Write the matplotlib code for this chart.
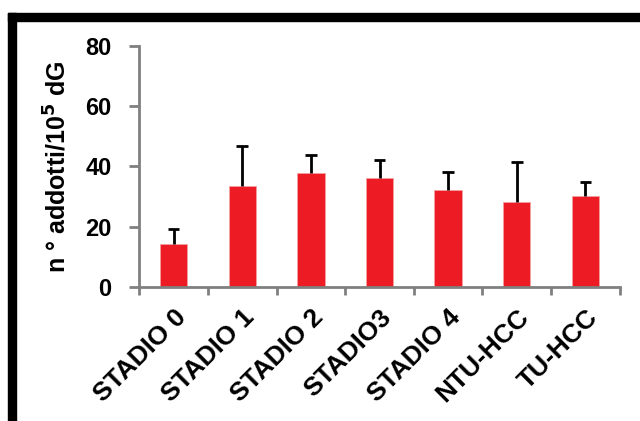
import matplotlib
matplotlib.use('Agg')
import matplotlib.pyplot as plt
from matplotlib.patches import Rectangle

categories = ['STADIO 0', 'STADIO 1', 'STADIO 2', 'STADIO3', 'STADIO 4', 'NTU-HCC', 'TU-HCC']
values = [14.3, 33.6, 37.8, 36.0, 32.2, 28.3, 30.2]
upper_err = [4.9, 13.3, 6.1, 6.0, 5.9, 13.0, 4.5]
yticks = [0, 20, 40, 60, 80]

plt.rcParams['font.family'] = ['Liberation Sans', 'DejaVu Sans']
plt.rcParams['font.weight'] = 'bold'
plt.rcParams['mathtext.default'] = 'bf'

W, H = 640, 421
fig = plt.figure(figsize=(6.4, 4.21), dpi=100)
ax = fig.add_axes([139.3 / W, 1 - 286.7 / H, (619.7 - 139.3) / W, (286.7 - 46) / H])

x = list(range(len(categories)))
tops = [v + e for v, e in zip(values, upper_err)]
ax.bar(x, values, width=0.4, color='#ED1C24', edgecolor='#F4A0A0', linewidth=0.6, zorder=2)
# upper-only error bars
ax.vlines(x, values, tops, color='black', linewidth=2, zorder=3)
ax.hlines(tops, [i - 0.085 for i in x], [i + 0.085 for i in x], color='black', linewidth=2, zorder=3)

ax.set_xlim(-0.5, len(categories) - 0.5)
ax.set_ylim(0, 80)
ax.set_yticks(yticks)
ax.set_yticklabels([str(v) for v in yticks], fontsize=17, fontweight='bold')
ax.set_xticks([i - 0.5 for i in range(len(categories) + 1)])
ax.set_xticklabels([])
ax.set_xticks(x, minor=True)
ax.set_xticklabels(categories, minor=True, rotation=45, ha='right',
                   rotation_mode='anchor', fontsize=19, fontweight='bold')
ax.tick_params(axis='x', which='minor', length=0, pad=13)
ax.tick_params(axis='x', which='major', length=6, width=2, color='#808080')
ax.tick_params(axis='y', length=7, width=2, color='#808080', pad=13)

for s in ['top', 'right']:
    ax.spines[s].set_visible(False)
for s in ['left', 'bottom']:
    ax.spines[s].set_color('#808080')
    ax.spines[s].set_linewidth(2)

ax.set_ylabel('n ° addotti/10$^{5}$ dG', fontsize=18, fontweight='bold', labelpad=10)

# black frame (top and left) around the figure
fig.add_artist(Rectangle((8 / W, 1 - 21 / H), 1, 8 / H, transform=fig.transFigure,
                         color='black', clip_on=False))
fig.add_artist(Rectangle((8 / W, 0), 8 / W, 1 - 13 / H, transform=fig.transFigure,
                         color='black', clip_on=False))

fig.savefig('out.png', dpi=100)
